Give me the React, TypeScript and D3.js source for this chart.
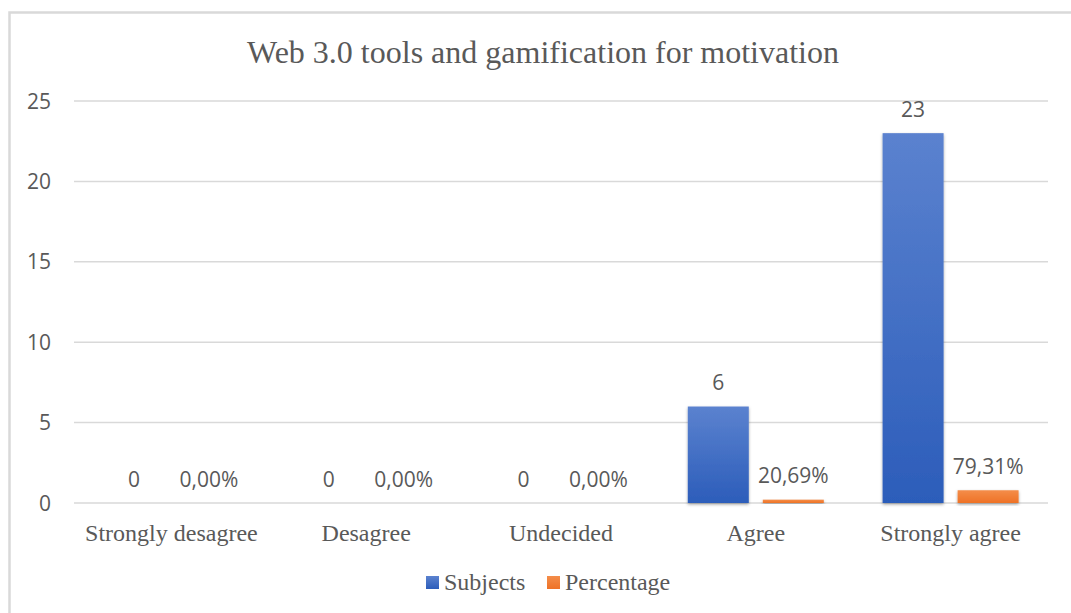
import React from "react";
import * as d3 from "d3";

const title = "Web 3.0 tools and gamification for motivation";
const categories = ["Strongly desagree", "Desagree", "Undecided", "Agree", "Strongly agree"];
const seriesNames = ["Subjects", "Percentage"];
const subjects = [0, 0, 0, 6, 23];
const percentage = [0, 0, 0, 0.2069, 0.7931];
const yTicks = [0, 5, 10, 15, 20, 25];

const W = 1071;
const H = 613;
const TEXT = "#595959";
const SANS = "'Open Sans', sans-serif";
const SERIF = "'Liberation Serif', 'Times New Roman', serif";

const fmtPct = (v: number) => (v * 100).toFixed(2).replace(".", ",") + "%";

export default function App() {
  const x0 = d3.scaleBand<string>().domain(categories).range([74, 1048]).padding(0);
  const x1 = d3.scaleBand<string>().domain(seriesNames).range([-68, 68]).paddingInner(0.187).paddingOuter(0);
  const y = d3.scaleLinear().domain([0, 25]).range([503, 101]);

  const seriesData = [
    { name: "Subjects", values: subjects, fill: "url(#gBlue)", label: (v: number) => String(v) },
    { name: "Percentage", values: percentage, fill: "url(#gOrange)", label: fmtPct },
  ];

  return (
    <svg width={W} height={H} style={{ position: "absolute", left: 0, top: 0, background: "#fff" }}>
      <defs>
        <linearGradient id="gBlue" x1="0" y1="0" x2="0" y2="1">
          <stop offset="0" stopColor="#5b82cf" />
          <stop offset="1" stopColor="#2c5dba" />
        </linearGradient>
        <linearGradient id="gOrange" x1="0" y1="0" x2="0" y2="1">
          <stop offset="0" stopColor="#f48d4a" />
          <stop offset="1" stopColor="#ee7226" />
        </linearGradient>
        <filter id="shadow" x="-20%" y="-20%" width="140%" height="140%">
          <feDropShadow dx="0" dy="1.5" stdDeviation="1.5" floodColor="#000" floodOpacity="0.35" />
        </filter>
      </defs>
      <rect x={0} y={0} width={W} height={H} fill="#fff" />
      <rect x={9.5} y={12.5} width={W + 20} height={H + 20} fill="none" stroke="#d9d9d9" strokeWidth={2.5} />

      <text x={543} y={63} textAnchor="middle" fontFamily={SERIF} fontSize={32} fill={TEXT}>
        {title}
      </text>

      {yTicks.map((t) => (
        <g key={t}>
          <line x1={74} x2={1048} y1={y(t)} y2={y(t)} stroke="#d9d9d9" strokeWidth={1.5} />
          <text x={51} y={y(t) + 7.5} textAnchor="end" fontFamily={SANS} fontSize={21} fill={TEXT}>
            {t}
          </text>
        </g>
      ))}

      {seriesData.map((s) => (
        <g key={s.name}>
          {categories.map((c, i) => {
            const v = s.values[i];
            const bx = (x0(c) as number) + x0.bandwidth() / 2 + (x1(s.name) as number);
            const bw = x1.bandwidth();
            const top = y(v);
            return (
              <g key={c}>
                {v > 0 && (
                  <rect x={bx} y={top} width={bw} height={y(0) - top} fill={s.fill} filter="url(#shadow)" />
                )}
                <text x={bx + bw / 2} y={top - 16.5} textAnchor="middle" fontFamily={SANS} fontSize={21} fill={TEXT}>
                  {s.label(v)}
                </text>
              </g>
            );
          })}
        </g>
      ))}

      {categories.map((c) => (
        <text key={c} x={(x0(c) as number) + x0.bandwidth() / 2} y={541} textAnchor="middle" fontFamily={SERIF} fontSize={24} fill={TEXT}>
          {c}
        </text>
      ))}

      <g>
        <rect x={426} y={576} width={13} height={13} fill="url(#gBlue)" />
        <text x={444} y={590} fontFamily={SERIF} fontSize={24} fill={TEXT}>Subjects</text>
        <rect x={547} y={576} width={13} height={13} fill="url(#gOrange)" />
        <text x={565} y={590} fontFamily={SERIF} fontSize={24} fill={TEXT}>Percentage</text>
      </g>
    </svg>
  );
}
